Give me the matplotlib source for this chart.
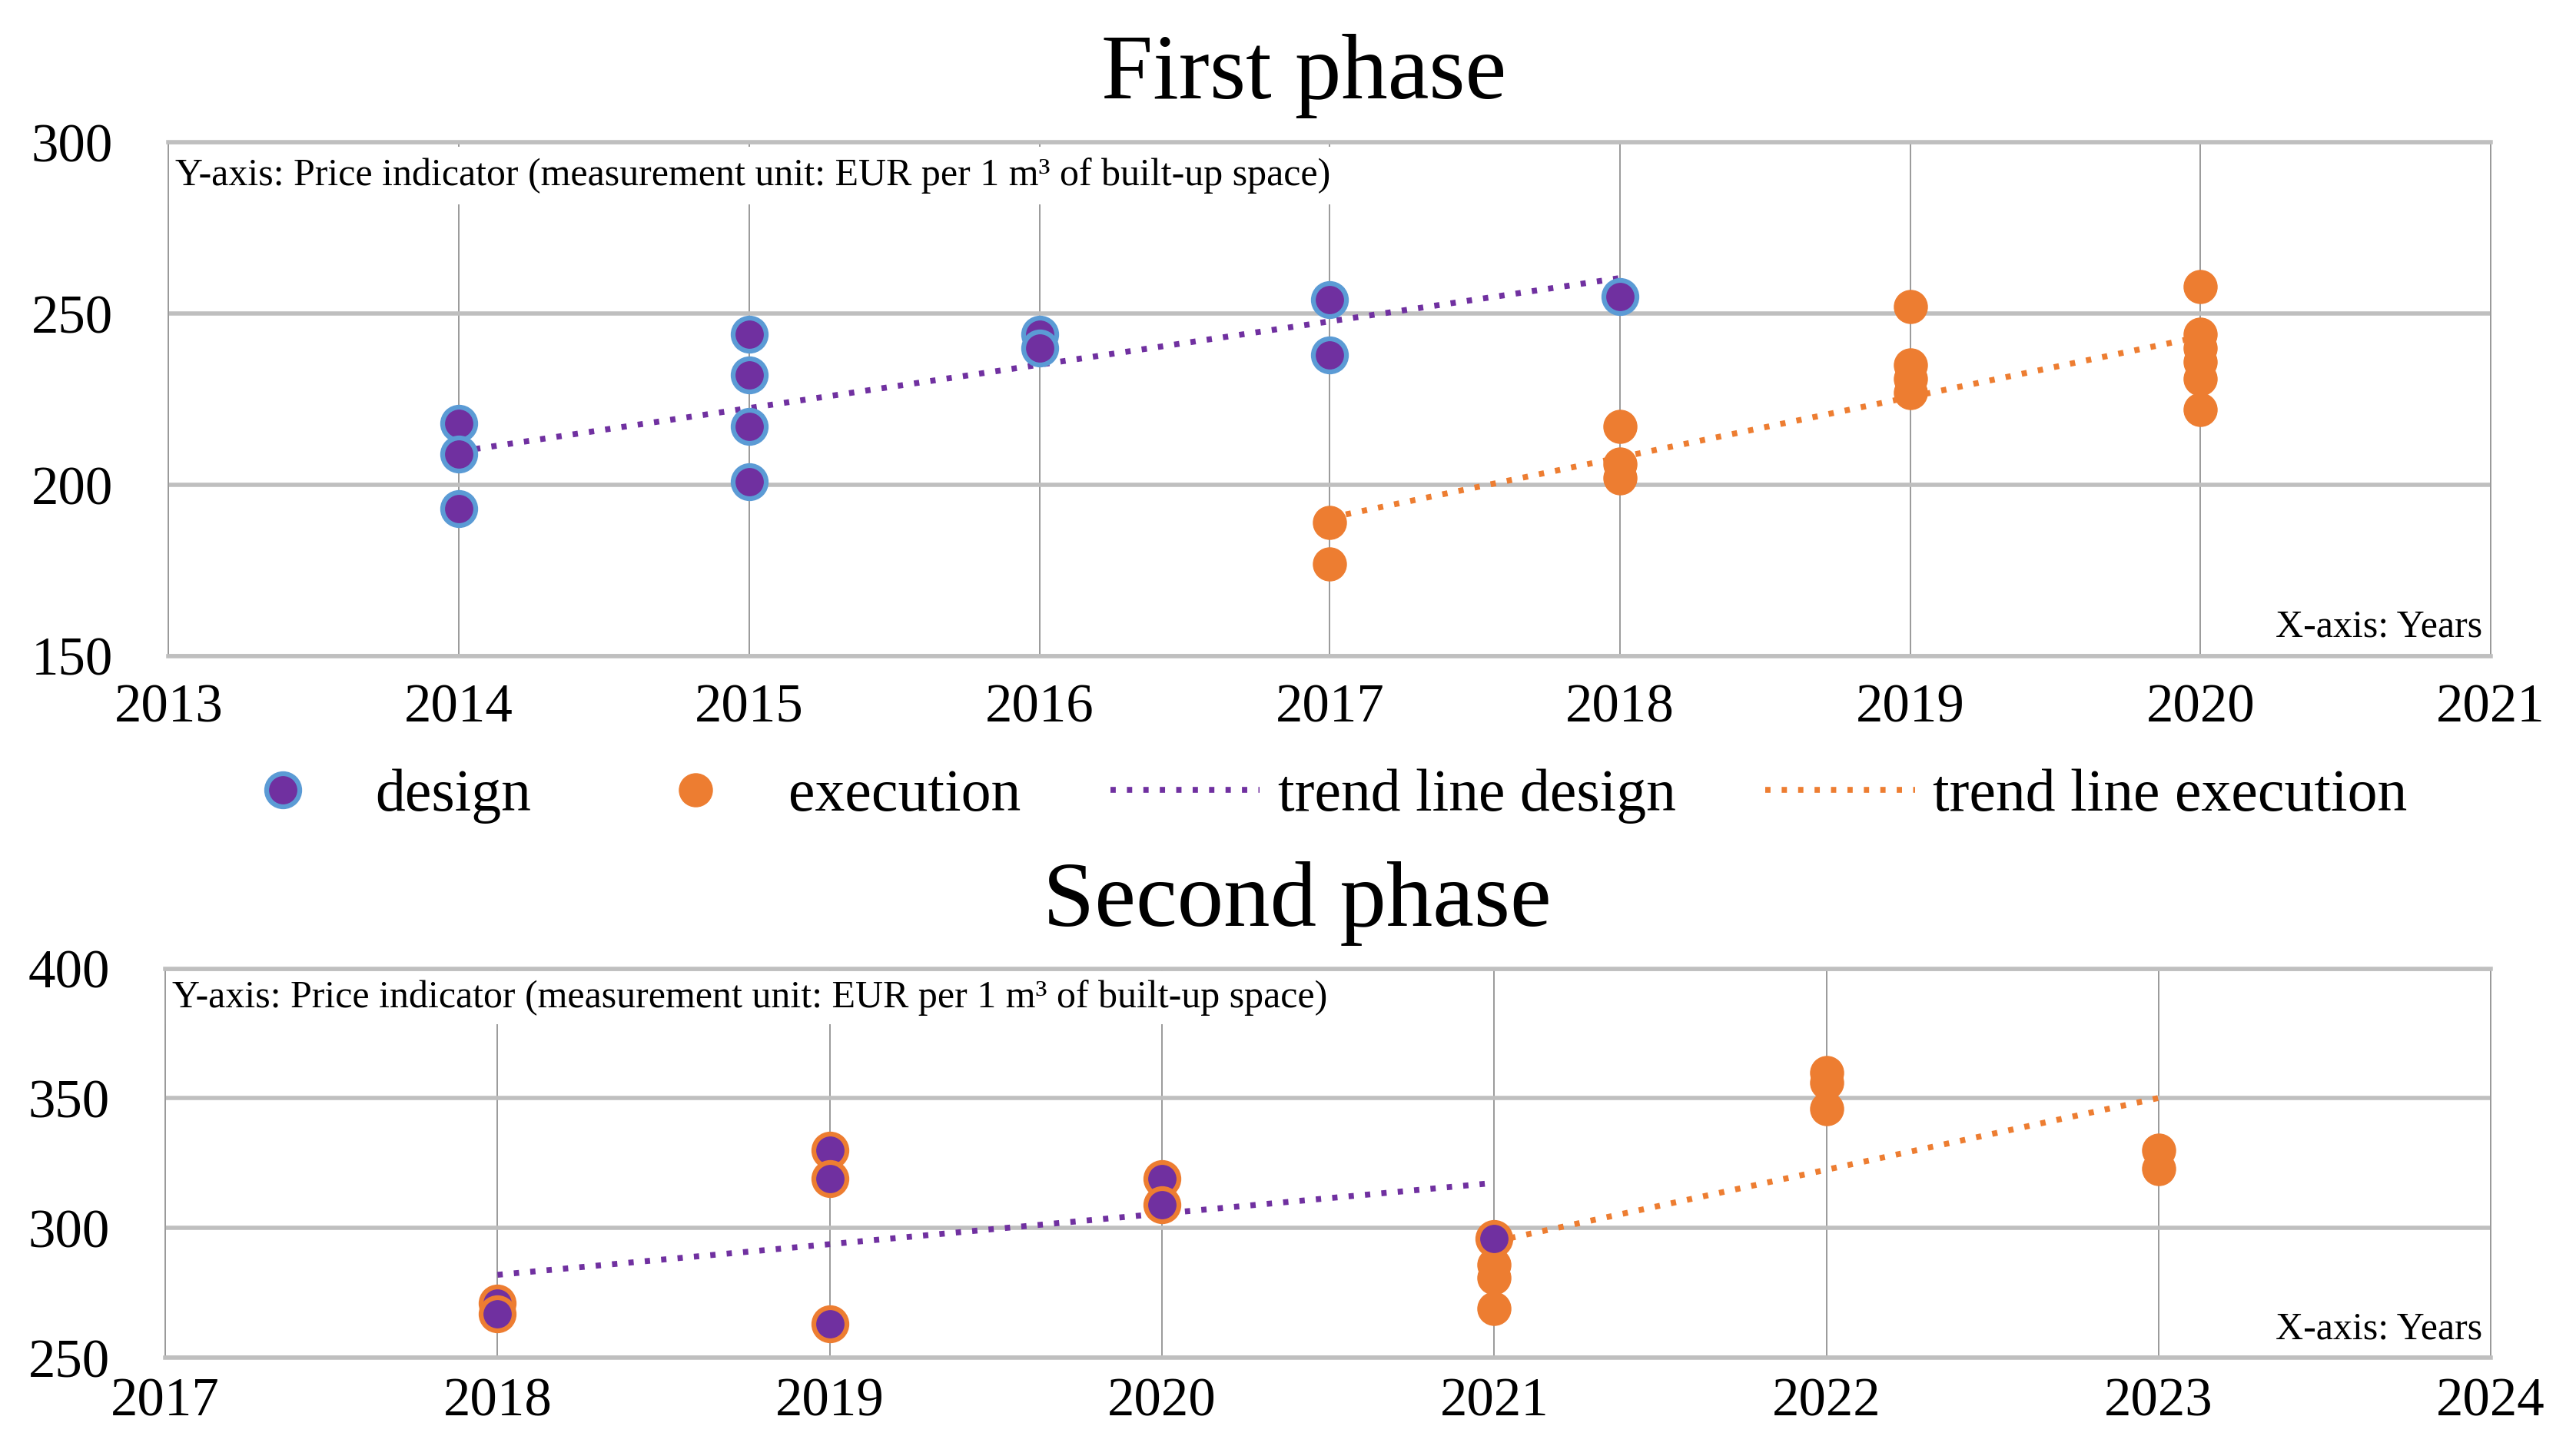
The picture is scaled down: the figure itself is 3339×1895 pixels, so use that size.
import numpy as np
import matplotlib
matplotlib.use("Agg")
import matplotlib.pyplot as plt
from matplotlib.lines import Line2D

plt.rcParams['font.family'] = ['Liberation Serif', 'DejaVu Serif']

# colours (excel-ish)
PURPLE = '#7030A0'
BLUE = '#5B9BD5'
ORANGE = '#ED7D31'
GRID_H = '#bfbfbf'
GRID_V = '#9a9a9a'

Y_NOTE = 'Y-axis: Price indicator (measurement unit: EUR per 1 m³ of built-up space)'
X_NOTE = 'X-axis: Years'

# ---- first phase data
p1_design_years = [2014, 2014, 2014, 2015, 2015, 2015, 2015, 2016, 2016, 2017, 2017, 2018]
p1_design = [218, 209, 193, 244, 232, 217, 201, 244, 240, 254, 238, 255]
p1_exec_years = [2017, 2017, 2018, 2018, 2018, 2019, 2019, 2019, 2019,
                 2020, 2020, 2020, 2020, 2020, 2020]
p1_exec = [189, 177, 217, 206, 202, 252, 235, 231, 227, 258, 244, 240, 236, 231, 222]
p1_xticks = [2013, 2014, 2015, 2016, 2017, 2018, 2019, 2020, 2021]
p1_yticks = [150, 200, 250, 300]

# ---- second phase data
p2_design_years = [2018, 2018, 2019, 2019, 2019, 2020, 2020, 2021]
p2_design = [271, 267, 330, 319, 263, 319, 309, 296]
p2_exec_years = [2021, 2021, 2021, 2021, 2022, 2022, 2022, 2023, 2023]
p2_exec = [296, 286, 281, 269, 360, 356, 346, 330, 323]
p2_xticks = [2017, 2018, 2019, 2020, 2021, 2022, 2023, 2024]
p2_yticks = [250, 300, 350, 400]

MS = 31  # marker size in points
TICK_FS = 51
NOTE_FS = 36
TREND_LW = 5.5
TREND_DASH = (0.9, 1.9)


def trend(ax, xs, ys, color):
    k, b = np.polyfit(xs, ys, 1)
    x0, x1 = min(xs), max(xs)
    ax.plot([x0, x1], [k * x0 + b, k * x1 + b], color=color, lw=TREND_LW,
            dashes=TREND_DASH, zorder=2.8)


def styleaxes(ax, xticks, yticks, xpad):
    ax.set_xlim(xticks[0], xticks[-1])
    ax.set_ylim(yticks[0], yticks[-1])
    ax.set_xticks(xticks)
    ax.set_yticks(yticks)
    ax.tick_params(length=0, labelsize=TICK_FS)
    ax.tick_params(axis='y', pad=52)
    ax.tick_params(axis='x', pad=xpad)
    ax.xaxis.grid(True, color=GRID_V, lw=1.4)
    ax.yaxis.grid(True, color=GRID_H, lw=4)
    ax.set_axisbelow(True)
    for s in ['top', 'bottom']:
        ax.spines[s].set_color(GRID_H)
        ax.spines[s].set_linewidth(4)
    for s in ['left', 'right']:
        ax.spines[s].set_color(GRID_V)
        ax.spines[s].set_linewidth(1.4)


def notes(ax, ytop, pad):
    ax.annotate(Y_NOTE, xy=(0, 1), xycoords='axes fraction', xytext=(9, -ytop),
                textcoords='offset pixels', ha='left', va='center', fontsize=NOTE_FS,
                bbox=dict(facecolor='white', edgecolor='none', pad=pad), zorder=2)
    ax.annotate(X_NOTE, xy=(1, 0), xycoords='axes fraction', xytext=(-11, 14),
                textcoords='offset pixels', ha='right', va='bottom', fontsize=NOTE_FS,
                bbox=dict(facecolor='white', edgecolor='none', pad=3), zorder=2)


fig = plt.figure(figsize=(33.39, 18.95), dpi=100)

# first phase
ax1 = fig.add_axes([0.0657, 0.5494, 0.905, 0.3528])
styleaxes(ax1, p1_xticks, p1_yticks, 26)
ax1.plot(p1_exec_years, p1_exec, 'o', ms=MS, color=ORANGE, mec=ORANGE, mew=1, zorder=3)
ax1.plot(p1_design_years, p1_design, 'o', ms=MS, color=PURPLE, mec=BLUE, mew=4.5, zorder=3.1)
trend(ax1, p1_design_years, p1_design, PURPLE)
trend(ax1, p1_exec_years, p1_exec, ORANGE)
notes(ax1, 43, 10)

# second phase
ax2 = fig.add_axes([0.0644, 0.0674, 0.9063, 0.2674])
styleaxes(ax2, p2_xticks, p2_yticks, 18)
ax2.plot(p2_exec_years, p2_exec, 'o', ms=MS, color=ORANGE, mec=ORANGE, mew=1, zorder=3)
ax2.plot(p2_design_years, p2_design, 'o', ms=MS, color=PURPLE, mec=ORANGE, mew=4.5, zorder=3.1)
trend(ax2, p2_design_years, p2_design, PURPLE)
trend(ax2, p2_exec_years, p2_exec, ORANGE)
notes(ax2, 38, 8)

fig.text(0.508, 0.9326, 'First phase', ha='center', va='baseline', fontsize=87)
fig.text(0.5054, 0.364, 'Second phase', ha='center', va='baseline', fontsize=87)

handles = [
    Line2D([], [], ls='none', marker='o', ms=MS, color=PURPLE, mec=BLUE, mew=4.5),
    Line2D([], [], ls='none', marker='o', ms=MS, color=ORANGE, mec=ORANGE),
    Line2D([], [], color=PURPLE, lw=TREND_LW, dashes=TREND_DASH),
    Line2D([], [], color=ORANGE, lw=TREND_LW, dashes=TREND_DASH),
]
labels = ['design', 'execution', 'trend line design', 'trend line execution']
fig.legend(handles, labels, loc='center', bbox_to_anchor=(0.5096, 0.453), ncol=4,
           frameon=False, fontsize=56, handlelength=2.5, handletextpad=0.3,
           columnspacing=1.5)

fig.savefig('out.png', dpi=100, facecolor='white')
